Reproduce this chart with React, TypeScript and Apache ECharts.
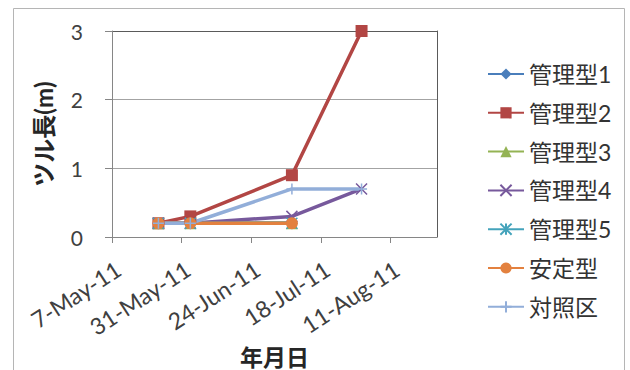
import React, { useEffect, useRef } from "react";
import * as echarts from "echarts";

// Measurement dates and vine length (m) per plot type
const axisStart = "2011-05-07";
const axisEnd = "2011-08-27";
const tickStepDays = 24;
const tickDays = [0, 24, 48, 72, 96];

const dates = ["2011-05-23", "2011-06-03", "2011-07-08", "2011-08-01"];

const seriesNames = ["管理型1", "管理型2", "管理型3", "管理型4", "管理型5", "安定型", "対照区"];
const kanri1 = [0.2, 0.2, 0.2, null];
const kanri2 = [0.2, 0.3, 0.9, 3.0];
const kanri3 = [0.2, 0.2, 0.2, null];
const kanri4 = [0.2, 0.2, 0.3, 0.7];
const kanri5 = [0.2, 0.2, 0.2, null];
const antei = [0.2, 0.2, 0.2, null];
const taisho = [0.2, 0.2, 0.7, 0.7];

const yTicks = { min: 0, max: 3, interval: 1 };

const DAY = 86400000;
const toUTC = (s: string) => {
  const [y, m, d] = s.split("-").map(Number);
  return Date.UTC(y, m - 1, d);
};
const dayOffset = (s: string) => Math.round((toUTC(s) - toUTC(axisStart)) / DAY);
const MONTHS = ["Jan", "Feb", "Mar", "Apr", "May", "Jun", "Jul", "Aug", "Sep", "Oct", "Nov", "Dec"];
const fmtDay = (v: number) => {
  const d = new Date(toUTC(axisStart) + v * DAY);
  return `${d.getUTCDate()}-${MONTHS[d.getUTCMonth()]}-${String(d.getUTCFullYear()).slice(2)}`;
};

const LATIN_CJK = "Lato, 'Noto Sans CJK JP', sans-serif";

export default function App() {
  const ref = useRef<HTMLDivElement>(null);

  useEffect(() => {
    if (!ref.current) return;
    const chart = echarts.init(ref.current, null, { renderer: "svg" });

    const values = [kanri1, kanri2, kanri3, kanri4, kanri5, antei, taisho];
    const colors = ["#4A7EBB", "#B24644", "#94B354", "#77599C", "#44A3BB", "#E3813F", "#92AED9"];
    const symbols = [
      "diamond",
      "rect",
      "triangle",
      "path://M0,0L10,10M10,0L0,10",
      "path://M0,0L10,10M10,0L0,10M5,0L5,10",
      "circle",
      "path://M5,0L5,10M0,5L10,5",
    ];
    const sizes = [12, 12, 12, 11, 11, 12, 11];
    const strokeMarker = [false, false, false, true, true, false, true];

    const series = values.map((vals, i) => ({
      name: seriesNames[i],
      type: "line",
      data: dates
        .map((d, j) => (vals[j] == null ? null : [dayOffset(d), vals[j]]))
        .filter((p) => p !== null),
      symbol: symbols[i],
      symbolSize: sizes[i],
      showSymbol: true,
      lineStyle: { color: colors[i], width: 3.5 },
      itemStyle: {
        color: colors[i],
        borderColor: colors[i],
        borderWidth: strokeMarker[i] ? 1.5 : 0,
      },
      emphasis: { disabled: true },
    }));

    chart.setOption({
      animation: false,
      backgroundColor: "#ffffff",
      graphic: [
        {
          type: "rect",
          shape: { x: 13.5, y: 8.5, width: 611, height: 400 },
          style: { fill: "none", stroke: "#b5b5b5", lineWidth: 1 },
          silent: true,
        },
      ],
      grid: {
        left: 112,
        right: 193,
        top: 31,
        bottom: 133,
        show: false,
        containLabel: false,
        outerBoundsMode: "none",
      },
      legend: {
        orient: "vertical",
        left: 487,
        top: 62.5,
        padding: 0,
        itemWidth: 36,
        itemHeight: 14,
        itemGap: 15.8,
        textStyle: {
          fontFamily: LATIN_CJK,
          fontSize: 23,
          lineHeight: 23,
          color: "#333333",
        },
        data: seriesNames,
      },
      xAxis: {
        type: "value",
        min: 0,
        max: dayOffset(axisEnd),
        interval: tickStepDays,
        name: "年月日",
        nameLocation: "middle",
        nameGap: 93,
        nameTextStyle: {
          fontFamily: LATIN_CJK,
          fontSize: 23,
          fontWeight: "bold",
          color: "#262626",
        },
        axisLine: { show: true, lineStyle: { color: "#868686", width: 1 } },
        axisTick: {
          show: true,
          inside: false,
          length: 6,
          customValues: tickDays,
          lineStyle: { color: "#868686" },
        },
        axisLabel: {
          customValues: tickDays,
          formatter: (v: number) => fmtDay(v),
          rotate: 33,
          align: "right",
          verticalAlign: "top",
          margin: 20,
          fontFamily: LATIN_CJK,
          fontSize: 23,
          color: "#404040",
        },
        splitLine: { show: false },
      },
      yAxis: [
        {
          type: "value",
          min: yTicks.min,
          max: yTicks.max,
          interval: yTicks.interval,
          name: "ツル長(m)",
          nameLocation: "middle",
          nameGap: 57,
          nameTextStyle: {
            fontFamily: LATIN_CJK,
            fontSize: 24,
            fontWeight: "bold",
            color: "#262626",
          },
          axisLine: { show: true, lineStyle: { color: "#868686", width: 1 } },
          axisTick: { show: true, inside: false, length: 7, lineStyle: { color: "#868686" } },
          axisLabel: {
            margin: 29,
            fontFamily: LATIN_CJK,
            fontSize: 21,
            color: "#404040",
          },
          splitLine: {
            show: true,
            lineStyle: { color: ["#a3a3a3", "#a3a3a3", "#a3a3a3", "#5a5a5a"], width: 1 },
          },
        },
        {
          type: "value",
          position: "right",
          min: yTicks.min,
          max: yTicks.max,
          interval: yTicks.interval,
          axisLine: { show: true, lineStyle: { color: "#5a5a5a", width: 1 } },
          axisTick: { show: false },
          axisLabel: { show: false },
          splitLine: { show: false },
        },
      ],
      series,
    });

    return () => chart.dispose();
  }, []);

  return (
    <div
      ref={ref}
      style={{ position: "fixed", left: 0, top: 0, width: 630, height: 370 }}
    />
  );
}
